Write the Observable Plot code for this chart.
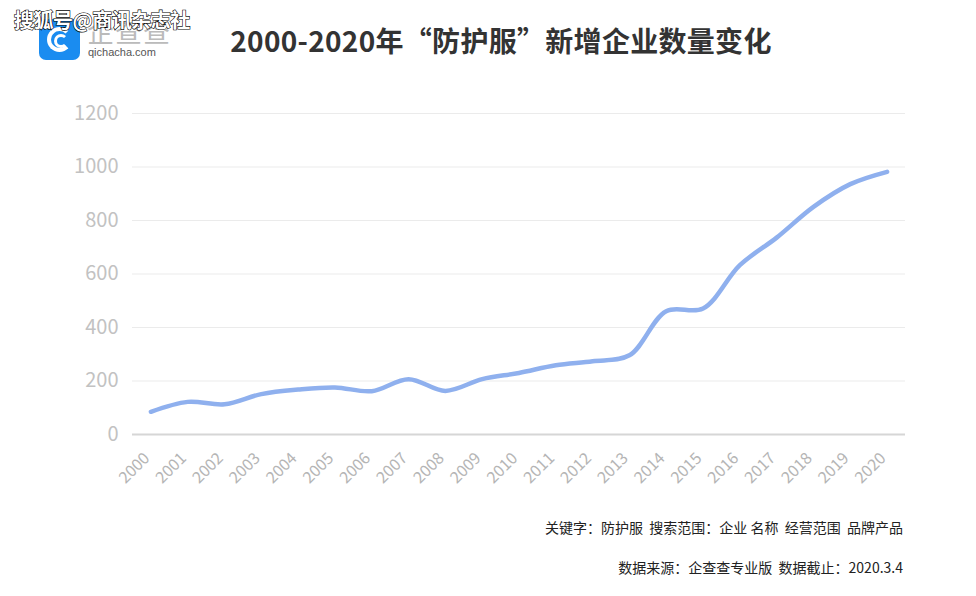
<!DOCTYPE html>
<html>
<head>
<meta charset="utf-8">
<script src="https://cdn.jsdelivr.net/npm/d3@7"></script>
<script src="https://cdn.jsdelivr.net/npm/@observablehq/plot@0.6"></script>
<style>
  html, body { margin: 0; padding: 0; background: #fff; }
  body { width: 976px; height: 596px; position: relative; overflow: hidden; font-family: "Noto Sans CJK SC", "Noto Sans", sans-serif; }
  #chart { position: absolute; left: 0; top: 0; }
  .title { position: absolute; left: 0; width: 1002px; top: 20px; text-align: center; font-size: 28px; font-weight: bold; color: #333; letter-spacing: 0.3px; }
  .logo { position: absolute; left: 39px; top: 19px; width: 41px; height: 41px; border-radius: 7px; background: #1a8cf0; }
  .logo-ring { position: absolute; left: 8px; top: 8px; width: 17px; height: 17px; border: 4px solid #fff; border-radius: 50%; border-right-color: transparent; }
  .logo-dot { position: absolute; left: 15px; top: 15px; width: 8px; height: 8px; border: 3px solid #fff; border-radius: 50%; border-right-color: transparent; }
  .logo-text { position: absolute; left: 87px; top: 11px; font-size: 27px; color: #bbb; letter-spacing: 1px; }
  .logo-url { position: absolute; left: 88px; top: 46px; font-size: 11px; color: #555; font-family: "Liberation Sans", Arial, sans-serif; }
  .wm { position: absolute; left: 14px; top: 5px; font-size: 20px; font-weight: bold; color: #fff; -webkit-text-stroke: 1.2px #000; paint-order: stroke fill; letter-spacing: -0.5px; }
  .foot { position: absolute; right: 73px; font-size: 14px; color: #222; white-space: pre; }
</style>
</head>
<body>
<div class="logo"><div class="logo-ring"></div><div class="logo-dot"></div></div>
<div class="logo-text">企查查</div>
<div class="logo-url">qichacha.com</div>
<div class="wm">搜狐号@商讯杂志社</div>
<div class="title">2000-2020年“防护服”新增企业数量变化</div>
<div id="chart"></div>
<div class="foot" style="top:517px;">关键字：防护服  搜索范围：企业 名称  经营范围  品牌产品</div>
<div class="foot" style="top:557px;">数据来源：企查查专业版  数据截止：2020.3.4</div>
<script>
const years = ["2000","2001","2002","2003","2004","2005","2006","2007","2008","2009","2010",
               "2011","2012","2013","2014","2015","2016","2017","2018","2019","2020"];
const counts = [85, 122, 113, 151, 168, 176, 162, 207, 163, 207, 230,
                259, 274, 296, 461, 471, 633, 736, 851, 936, 982];
const yTicks = [0, 200, 400, 600, 800, 1000, 1200];

const data = years.map((y, i) => ({year: y, count: counts[i]}));

const chart = Plot.plot({
  width: 976,
  height: 520,
  marginTop: 113,
  marginBottom: 86,
  marginLeft: 132,
  marginRight: 71,
  style: { fontFamily: "'Noto Sans CJK SC', 'Noto Sans', sans-serif", background: "transparent" },
  x: { type: "point", domain: years, padding: 0.5, round: false, axis: null },
  y: { domain: [0, 1200] },
  marks: [
    Plot.ruleY(yTicks.filter(d => d > 0), { stroke: "#ebebeb", strokeWidth: 1 }),
    Plot.ruleY([0], { stroke: "#d6d6d6", strokeWidth: 2 }),
    Plot.axisY({ ticks: yTicks, tickFormat: d => String(d), tickSize: 0, tickPadding: 14, label: null, fontSize: 20, color: "#c2c2c2" }),
    Plot.text(years, { x: d => d, y: () => 0, text: d => d, rotate: -45, textAnchor: "end", lineAnchor: "middle", dx: -4, dy: 21, fontSize: 16, fill: "#b5b5b5" }),
    Plot.line(data, { x: "year", y: "count", curve: "catmull-rom", stroke: "#8fb0ee", strokeWidth: 4.5, strokeLinecap: "round" })
  ]
});
document.getElementById("chart").appendChild(chart);
</script>
</body>
</html>
